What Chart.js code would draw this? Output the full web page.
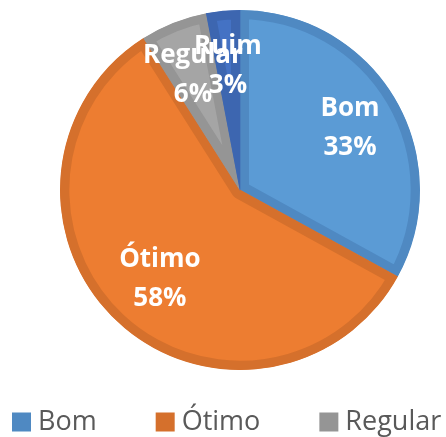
<!DOCTYPE html>
<html>
<head>
<meta charset="utf-8">
<script src="https://cdn.jsdelivr.net/npm/chart.js@4"></script>
<style>
  html, body { margin: 0; padding: 0; background: #fff; }
  #wrap { width: 446px; height: 437px; }
</style>
</head>
<body>
<div id="wrap"><canvas id="grafico"></canvas></div>
<script>
const categorias = ["Bom", "Ótimo", "Regular", "Ruim"];
const valores = [33, 58, 6, 3];
const cores = ["#5B9BD5", "#ED7D31", "#A5A5A5", "#4472C4"];
const coresBorda = ["#4F89C2", "#D5702C", "#959595", "#3D66B0"];
const legendaVisivel = ["Bom", "Ótimo", "Regular"];

// rótulos brancos dentro das fatias
const rotulosPlugin = {
    id: "rotulos",
    afterDatasetsDraw(chart) {
        const ctx = chart.ctx;
        const meta = chart.getDatasetMeta(0);
        const fator = [0.71, 0.65, 0.71, 0.71];
        ctx.save();
        ctx.fillStyle = "#fff";
        ctx.font = "bold 26px 'Open Sans'";
        ctx.textAlign = "center";
        ctx.textBaseline = "middle";
        meta.data.forEach((arc, i) => {
            const p = arc.getProps(["x", "y", "startAngle", "endAngle", "outerRadius"], true);
            const meio = (p.startAngle + p.endAngle) / 2;
            const r = p.outerRadius * fator[i];
            const x = p.x + Math.cos(meio) * r;
            const y = p.y + Math.sin(meio) * r + 3;
            ctx.fillText(categorias[i], x, y - 19);
            ctx.fillText(valores[i] + "%", x, y + 20);
        });
        ctx.restore();
    }
};

// legenda embaixo (a última entrada fica cortada, como no original)
const legendaPlugin = {
    id: "legendaBaixo",
    afterDraw(chart) {
        const ctx = chart.ctx;
        ctx.save();
        ctx.font = "27px 'Open Sans'";
        ctx.textBaseline = "middle";
        let x = 12;
        const y = 422;
        legendaVisivel.forEach(nome => {
            const i = categorias.indexOf(nome);
            ctx.fillStyle = coresBorda[i];
            ctx.fillRect(x, y - 9.5, 19, 19);
            x += 26;
            ctx.fillStyle = "#595959";
            ctx.fillText(nome, x, y);
            x += ctx.measureText(nome).width + 59;
        });
        ctx.restore();
    }
};

new Chart(document.getElementById("grafico"), {
    type: "pie",
    data: {
        labels: categorias,
        datasets: [{
            data: valores,
            backgroundColor: cores,
            borderColor: coresBorda,
            borderWidth: 9,
            borderAlign: "inner",
            hoverOffset: 0
        }]
    },
    options: {
        responsive: true,
        maintainAspectRatio: false,
        animation: false,
        layout: { padding: { left: 60, right: 26, top: 10, bottom: 67 } },
        plugins: {
            legend: { display: false },
            tooltip: { enabled: false }
        }
    },
    plugins: [rotulosPlugin, legendaPlugin]
});
</script>
</body>
</html>
